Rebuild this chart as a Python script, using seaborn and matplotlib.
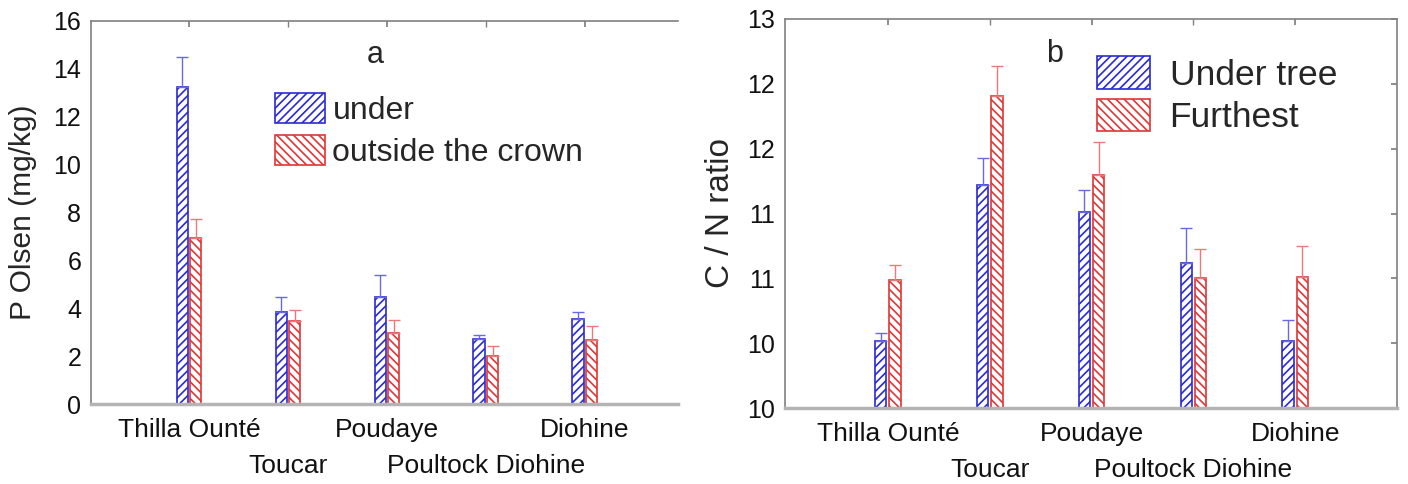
import matplotlib
matplotlib.use("Agg")
import matplotlib.pyplot as plt
import seaborn as sns
import pandas as pd
import numpy as np

# ---------------- data ----------------
sites = ["Thilla Ounté", "Toucar", "Poudaye", "Poultock Diohine", "Diohine"]

# panel a : P Olsen (mg/kg)
p_under = [13.25, 3.86, 4.47, 2.72, 3.55]
p_under_err = [1.25, 0.60, 0.92, 0.16, 0.29]
p_outside = [6.95, 3.47, 2.97, 2.00, 2.67]
p_outside_err = [0.76, 0.46, 0.53, 0.42, 0.60]
p_labels = ["under", "outside the crown"]
p_yticks = [0, 2, 4, 6, 8, 10, 12, 14, 16]

# panel b : C / N ratio
cn_under = [10.02, 11.22, 11.01, 10.62, 10.02]
cn_under_err = [0.06, 0.21, 0.17, 0.27, 0.16]
cn_further = [10.49, 11.91, 11.30, 10.50, 10.51]
cn_further_err = [0.11, 0.23, 0.25, 0.23, 0.24]
cn_labels = ["Under tree", "Furthest"]
cn_yticks = [9.5, 10.0, 10.5, 11.0, 11.5, 12.0, 12.5]
cn_yticklabels = ["10", "10", "11", "11", "12", "12", "13"]

# ---------------- style ----------------
sns.set_theme(style="white")
plt.rcParams["font.family"] = ["Liberation Sans", "DejaVu Sans"]
plt.rcParams["hatch.linewidth"] = 1.2

BLUE = "#2a2ad6"
RED = "#e03636"
BLUE_ERR = "#6868e4"
RED_ERR = "#ea7a7a"

fig = plt.figure(figsize=(14.08, 4.84), dpi=100)
W, H = 1408, 484
axA = fig.add_axes([91 / W, 1 - 404 / H, (678 - 91) / W, (404 - 21) / H])
axB = fig.add_axes([785 / W, 1 - 408 / H, (1397 - 785) / W, (408 - 19) / H])


def draw(ax, under, under_err, other, other_err, labels):
    df = pd.DataFrame({
        "site": sites * 2,
        "value": list(under) + list(other),
        "group": [labels[0]] * len(sites) + [labels[1]] * len(sites),
    })
    sns.barplot(data=df, x="site", y="value", hue="group", order=sites,
                hue_order=labels, palette=[BLUE, RED], fill=False,
                width=0.28, gap=0.2, linewidth=1.2, errorbar=None,
                legend=False, ax=ax)
    hatches = ["////", "\\\\\\\\"]
    for cont, h, col, ecol, err in zip(ax.containers, hatches, [BLUE, RED],
                                       [BLUE_ERR, RED_ERR],
                                       [under_err, other_err]):
        xs, ys = [], []
        for p in cont:
            p.set_hatch(h)
            p.set_edgecolor(col)
            p.set_facecolor("white")
            p.set_fill(True)
            xs.append(p.get_x() + p.get_width() / 2)
            ys.append(p.get_height())
        ax.errorbar(xs, ys, yerr=[np.zeros(len(err)), err], fmt="none",
                    ecolor=ecol, elinewidth=1.0, capsize=4, capthick=1.0,
                    zorder=1)
    return [c[0] for c in ax.containers]


hA = draw(axA, p_under, p_under_err, p_outside, p_outside_err, p_labels)
hB = draw(axB, cn_under, cn_under_err, cn_further, cn_further_err, cn_labels)

idx = list(range(len(sites)))
row1 = [i for i in idx if i % 2 == 0]
row2 = [i for i in idx if i % 2 == 1]
for ax in (axA, axB):
    ax.set_xticks(row1)
    ax.set_xticklabels([sites[i] for i in row1], fontsize=19)
    ax.set_xticks(row2, minor=True)
    ax.set_xticklabels([sites[i] for i in row2], minor=True, fontsize=19)
    ax.set_xlabel("")
    for s in ax.spines.values():
        s.set_color("#808080")
        s.set_linewidth(1.2)
    ax.spines["bottom"].set_color("#b4b4b4")
    ax.spines["bottom"].set_linewidth(2.5)
    ax.tick_params(axis="x", which="major", direction="in", length=4, pad=10,
                   top=True, bottom=False, colors="#808080",
                   labelcolor="#111111")
    ax.tick_params(axis="x", which="minor", direction="in", length=4, pad=36,
                   top=True, bottom=False, colors="#808080",
                   labelcolor="#111111")
    ax.tick_params(axis="y", direction="in", length=4, pad=7,
                   colors="#808080", labelcolor="#111111", labelsize=18)

axA.set_xlim(-0.99, 4.94)
axA.set_ylim(0, 16)
axA.set_yticks(p_yticks)
axA.spines["right"].set_visible(False)
axA.set_ylabel("P Olsen (mg/kg)", fontsize=21.5, labelpad=12)
axA.text(0.484, 0.91, "a", transform=axA.transAxes, fontsize=22,
         ha="center", va="center")

axB.set_xlim(-1.01, 5.0)
axB.set_ylim(9.5, 12.5)
axB.set_yticks(cn_yticks)
axB.set_yticklabels(cn_yticklabels)
axB.tick_params(axis="y", right=True)
axB.set_ylabel("C / N ratio", fontsize=24, labelpad=8)
axB.text(0.44, 0.91, "b", transform=axB.transAxes, fontsize=22,
         ha="center", va="center")

fig.legend(hA, p_labels, loc="upper left",
           bbox_to_anchor=(275 / W, 1 - 93 / H), frameon=False, fontsize=23,
           handlelength=1.55, handleheight=1.05, handletextpad=0.25,
           labelspacing=0.3, borderpad=0, borderaxespad=0)
fig.legend(hB, cn_labels, loc="upper left",
           bbox_to_anchor=(1097 / W, 1 - 56 / H), frameon=False, fontsize=25.5,
           handlelength=1.5, handleheight=1.05, handletextpad=0.55,
           labelspacing=0.2, borderpad=0, borderaxespad=0)

fig.savefig("out.png", dpi=100)
